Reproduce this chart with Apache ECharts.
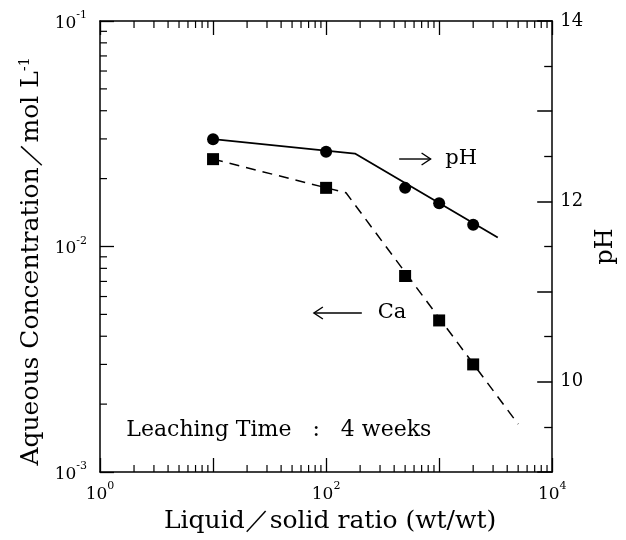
<!DOCTYPE html>
<html><head><meta charset="utf-8">
<script src="https://cdn.jsdelivr.net/npm/echarts@6/dist/echarts.min.js"></script>
<style>html,body{margin:0;padding:0;background:#fff}#c{width:626px;height:540px}</style>
</head><body><div id="c"></div>
<script>
// ---- data ----
const ratios   = [10, 100, 500, 1000, 2000];          // liquid/solid ratio (wt/wt)
const caConc   = [0.0244, 0.0182, 0.0074, 0.0047, 0.0030]; // mol/L
const phValues = [12.69, 12.55, 12.15, 11.98, 11.74];
const caTrendX = [10, 150, 5000];
const caTrendY = [0.0244, 0.0173, 0.00163];
const phTrendX = [10, 180, 3300];
const phTrendY = [12.69, 12.53, 11.6];
// tick labels
const xTickExp   = [0, 2, 4];
const xTickText  = ['10{s|0}', '10{s|2}', '10{s|4}'];
const yTickExp   = [-1, -2, -3];
const yTickText  = ['10{s|-1}', '10{s|-2}', '10{s|-3}'];
const phTickVals = [10, 12, 14];
// annotation anchors (data space)
const phArrowX = [443, 840], phArrowY = 12.47, phLabelX = 1133;
const caArrowX = [207, 78],  caArrowY = 0.00507, caLabelX = 286;
const noteX = 1.71, noteY = 0.00153;

const FONT = 'DejaVu Serif';
const BLACK = '#000';
const rich = {
  b: {fontFamily: FONT, fontSize: 17, color: BLACK, lineHeight: 22, verticalAlign: 'bottom'},
  s: {fontFamily: FONT, fontSize: 11, color: BLACK, lineHeight: 11, verticalAlign: 'top'}
};
function wrapRich(t){ return t.replace(/^10/, '{b|10}'); }

// minor log ticks (2..9 per decade) for axes
const minorX = [], minorY = [];
[1, 10, 100, 1000].forEach(d => { for (let k = 2; k <= 9; k++) minorX.push([d * k, 0.01, 0]); });
[0.001, 0.01].forEach(d => { for (let k = 2; k <= 9; k++) minorY.push([10, d * k, 1]); });

const chart = echarts.init(document.getElementById('c'));
const axisLine = {show: true, lineStyle: {color: BLACK, width: 1.5}};
const baseLog = {
  type: 'log', logBase: 10, splitLine: {show: false}, axisLine,
  axisTick: {show: true, inside: true, length: 14, lineStyle: {color: BLACK, width: 1.3}},
  minorTick: {show: false}
};
chart.setOption({
  animation: false,
  backgroundColor: '#fff',
  grid: {left: 100, right: 64, top: 21, bottom: 68},
  xAxis: [
    Object.assign({}, baseLog, {
      min: 1, max: 10000, position: 'bottom',
      axisLabel: {margin: 9, color: BLACK, rich,
        formatter: v => { const i = xTickExp.indexOf(Math.round(Math.log10(v))); return i < 0 ? '' : wrapRich(xTickText[i]); }},
      name: 'Liquid／solid ratio (wt/wt)', nameLocation: 'middle', nameGap: 37,
      nameTextStyle: {fontFamily: FONT, fontSize: 25, color: BLACK, padding: [0, 0, 0, 8]}
    }),
    Object.assign({}, baseLog, {min: 1, max: 10000, position: 'top', axisLabel: {show: false}})
  ],
  yAxis: [
    Object.assign({}, baseLog, {
      min: 0.001, max: 0.1, position: 'left',
      axisLabel: {margin: 13, color: BLACK, rich,
        formatter: v => { const i = yTickExp.indexOf(Math.round(Math.log10(v))); return i < 0 ? '' : wrapRich(yTickText[i]); }},
      name: 'Aqueous Concentration／mol L{s|-1}', nameLocation: 'middle', nameRotate: 90, nameGap: 55,
      nameTextStyle: {fontFamily: FONT, fontSize: 25, color: BLACK, padding: [0, 30, 0, 0],
        rich: {s: {fontFamily: FONT, fontSize: 14, color: BLACK, verticalAlign: 'top', lineHeight: 14}}}
    }),
    {
      type: 'value', min: 9, max: 14, interval: 1, position: 'right', splitLine: {show: false}, axisLine,
      axisTick: {show: true, inside: true, length: 15, lineStyle: {color: BLACK, width: 1.5}},
      minorTick: {show: true, splitNumber: 2, length: 8, lineStyle: {color: BLACK, width: 1.3}},
      axisLabel: {margin: 8, color: BLACK, fontFamily: FONT, fontSize: 18,
        formatter: v => phTickVals.indexOf(v) >= 0 ? String(v) : ''},
      name: 'pH', nameLocation: 'middle', nameRotate: 90, nameGap: 36,
      nameTextStyle: {fontFamily: FONT, fontSize: 24, color: BLACK}
    }
  ],
  series: [
    {type: 'line', xAxisIndex: 0, yAxisIndex: 0, data: caTrendX.map((x, i) => [x, caTrendY[i]]),
     symbol: 'none', lineStyle: {color: BLACK, width: 1.5, type: [10, 7]}, silent: true},
    {type: 'line', xAxisIndex: 0, yAxisIndex: 1, data: phTrendX.map((x, i) => [x, phTrendY[i]]),
     symbol: 'none', lineStyle: {color: BLACK, width: 1.8}, silent: true},
    {type: 'scatter', name: 'Ca', xAxisIndex: 0, yAxisIndex: 0, data: ratios.map((x, i) => [x, caConc[i]]),
     symbol: 'rect', symbolSize: 12, itemStyle: {color: BLACK, opacity: 1}},
    {type: 'scatter', name: 'pH', xAxisIndex: 0, yAxisIndex: 1, data: ratios.map((x, i) => [x, phValues[i]]),
     symbol: 'circle', symbolSize: 12, itemStyle: {color: BLACK, opacity: 1}},
    {type: 'custom', xAxisIndex: 0, yAxisIndex: 0, silent: true, clip: false,
     encode: {x: 0, y: 1}, data: minorX.concat(minorY),
     renderItem: (params, api) => {
       const cs = params.coordSys;
       const kind = api.value(2);
       const st = {stroke: BLACK, lineWidth: 1.2};
       if (kind === 0) {
         const px = api.coord([api.value(0), 0.01])[0];
         return {type: 'group', children: [
           {type: 'line', shape: {x1: px, y1: cs.y + cs.height, x2: px, y2: cs.y + cs.height - 7}, style: st},
           {type: 'line', shape: {x1: px, y1: cs.y, x2: px, y2: cs.y + 7}, style: st}
         ]};
       }
       const py = api.coord([10, api.value(1)])[1];
       return {type: 'line', shape: {x1: cs.x, y1: py, x2: cs.x + 7, y2: py}, style: st};
     }}
  ]
});

// annotations placed through the axes' scales
function px(finder, pt){ return chart.convertToPixel(finder, pt); }
const fPh = {xAxisIndex: 0, yAxisIndex: 1}, fCa = {xAxisIndex: 0, yAxisIndex: 0};
function arrow(a, b){
  const dir = Math.sign(b[0] - a[0]);
  return [
    {type: 'line', shape: {x1: a[0], y1: a[1], x2: b[0], y2: b[1]}, style: {stroke: BLACK, lineWidth: 1.4}},
    {type: 'polyline', shape: {points: [[b[0] - dir * 9, b[1] - 6], b, [b[0] - dir * 9, b[1] + 6]]},
     style: {stroke: BLACK, lineWidth: 1.4, fill: null}}
  ];
}
const pa0 = px(fPh, [phArrowX[0], phArrowY]), pa1 = px(fPh, [phArrowX[1], phArrowY]);
const ca0 = px(fCa, [caArrowX[0], caArrowY]), ca1 = px(fCa, [caArrowX[1], caArrowY]);
const phL = px(fPh, [phLabelX, phArrowY]), caL = px(fCa, [caLabelX, caArrowY]);
const nt = px(fCa, [noteX, noteY]);
chart.setOption({graphic: [].concat(
  arrow(pa0, pa1), arrow(ca0, ca1),
  [
    {type: 'text', x: phL[0], y: phL[1], style: {text: 'pH', font: '21px "DejaVu Serif"', fill: BLACK, verticalAlign: 'middle'}},
    {type: 'text', x: caL[0], y: caL[1], style: {text: 'Ca', font: '21px "DejaVu Serif"', fill: BLACK, verticalAlign: 'middle'}},
    {type: 'text', x: nt[0], y: nt[1], style: {text: 'Leaching Time   :   4 weeks', font: '22px "DejaVu Serif"', fill: BLACK, verticalAlign: 'middle'}}
  ])});
</script></body></html>
